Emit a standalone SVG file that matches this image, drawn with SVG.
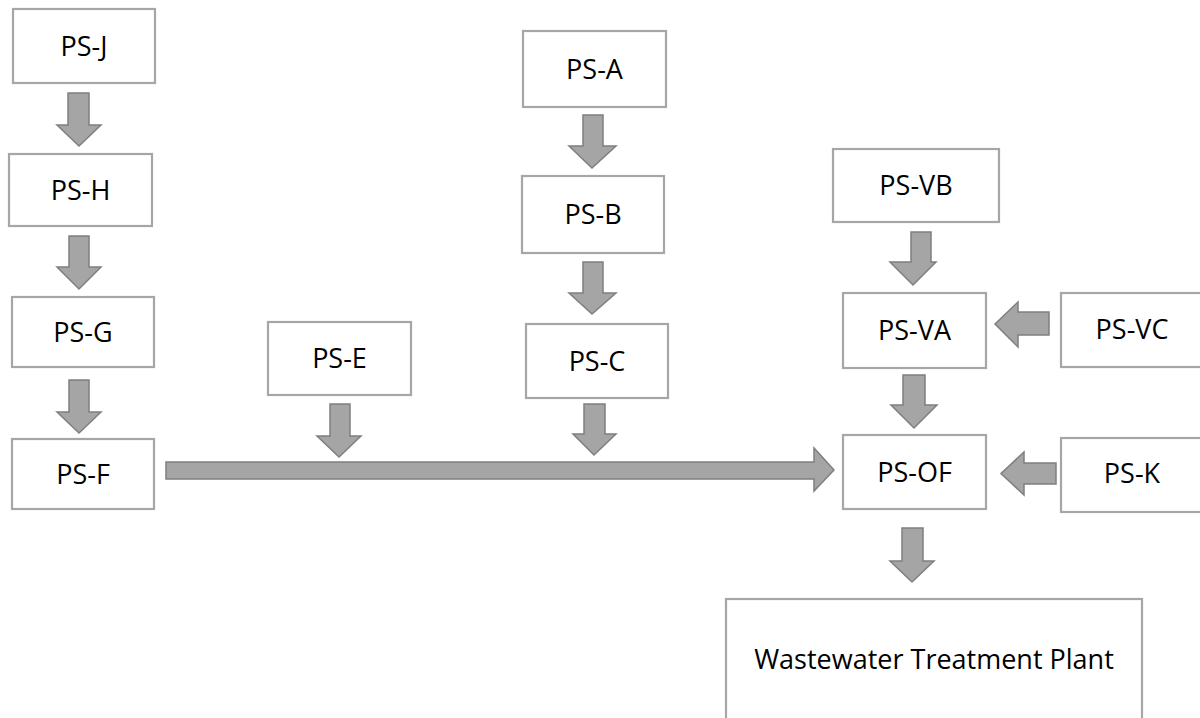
<svg xmlns="http://www.w3.org/2000/svg" width="1200" height="718" viewBox="0 0 1200 718">
<style>
.box{fill:#ffffff;stroke:#a6a6a6;stroke-width:2.2}
.lbl{font-family:"Open Sans","Liberation Sans",sans-serif;font-size:27px;fill:#000000;text-anchor:middle}
.arr{fill:#a5a5a5;stroke:#7f7f7f;stroke-width:1.5;stroke-linejoin:miter}
</style>
<rect width="1200" height="718" fill="#ffffff"/>
<g id="connectors">
<polygon class="arr" points="68,93 89,93 89,125 101,125 79,146 57,125 68,125"/>
<polygon class="arr" points="69,236 89,236 89,267 101,267 79,289 57,267 69,267"/>
<polygon class="arr" points="69,380 89,380 89,412 101,412 79,433 57,412 69,412"/>
<polygon class="arr" points="330,404 350,404 350,436 361,436 339,457 317,436 330,436"/>
<polygon class="arr" points="583,115 603,115 603,146 616,146 592,168 569,146 583,146"/>
<polygon class="arr" points="583,262 603,262 603,293 616,293 592,314 569,293 583,293"/>
<polygon class="arr" points="584,404 605,404 605,434 616,434 594,455 573,434 584,434"/>
<polygon class="arr" points="911,232 931,232 931,262 936,262 913,285 890,262 911,262"/>
<polygon class="arr" points="903,375 925,375 925,405 937,405 914,428 891,405 903,405"/>
<polygon class="arr" points="902,528 923,528 923,561 934,561 912,582 890,561 902,561"/>
<polygon class="arr" points="1049,312 1049,335 1018,335 1018,347 995,324 1018,302 1018,312"/>
<polygon class="arr" points="1056,463 1056,484 1024,484 1024,495 1001,473.5 1024,452 1024,463"/>
<polygon class="arr" points="166,462 814,462 814,448 834,470 814,491 814,479 166,479"/>
</g>
<g id="ps-j"><rect class="box" x="13" y="9" width="142" height="74"/><text class="lbl" x="84" y="56">PS-J</text></g>
<g id="ps-h"><rect class="box" x="9" y="154" width="143" height="72"/><text class="lbl" x="80.5" y="200">PS-H</text></g>
<g id="ps-g"><rect class="box" x="12" y="297" width="142" height="70"/><text class="lbl" x="83" y="342">PS-G</text></g>
<g id="ps-f"><rect class="box" x="12" y="439" width="142" height="70"/><text class="lbl" x="83" y="484">PS-F</text></g>
<g id="ps-e"><rect class="box" x="268" y="322" width="143" height="73"/><text class="lbl" x="339.5" y="368">PS-E</text></g>
<g id="ps-a"><rect class="box" x="523" y="31" width="143" height="76"/><text class="lbl" x="594.5" y="79">PS-A</text></g>
<g id="ps-b"><rect class="box" x="522" y="176" width="142" height="77"/><text class="lbl" x="593" y="224">PS-B</text></g>
<g id="ps-c"><rect class="box" x="526" y="324" width="142" height="74"/><text class="lbl" x="597" y="371">PS-C</text></g>
<g id="ps-vb"><rect class="box" x="833" y="149" width="166" height="73"/><text class="lbl" x="916" y="195">PS-VB</text></g>
<g id="ps-va"><rect class="box" x="843" y="293" width="143" height="75"/><text class="lbl" x="914.5" y="340">PS-VA</text></g>
<g id="ps-vc"><rect class="box" x="1061" y="293" width="142" height="74"/><text class="lbl" x="1132" y="339">PS-VC</text></g>
<g id="ps-of"><rect class="box" x="843" y="435" width="143" height="74"/><text class="lbl" x="914.5" y="482">PS-OF</text></g>
<g id="ps-k"><rect class="box" x="1061" y="438" width="142" height="74"/><text class="lbl" x="1132" y="483">PS-K</text></g>
<g id="wwtp"><rect class="box" x="726" y="599" width="416" height="140"/><text class="lbl" x="934" y="669">Wastewater Treatment Plant</text></g>
</svg>
